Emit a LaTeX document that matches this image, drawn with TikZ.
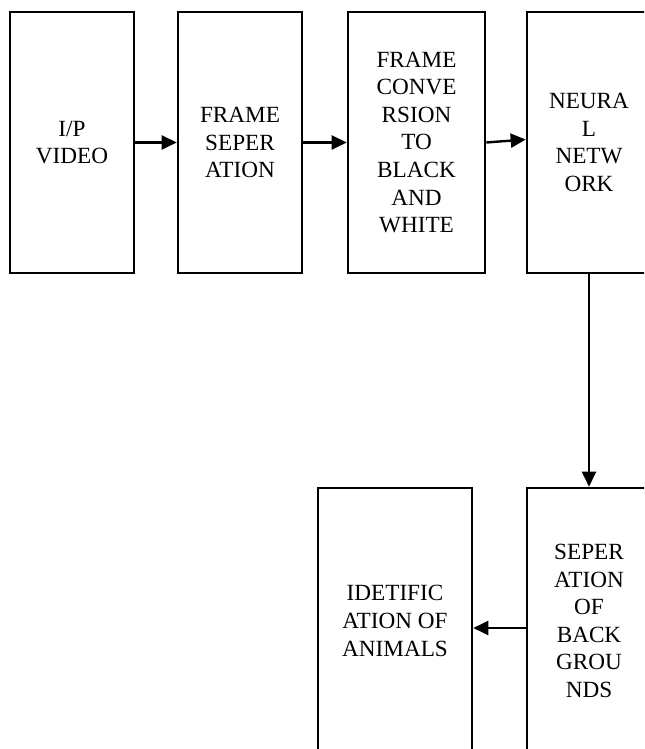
\documentclass[tikz,border=0pt]{standalone}
\usepackage{fontspec}
\setmainfont{Liberation Serif}
\usetikzlibrary{positioning, arrows.meta}

\tikzset{
  blok/.style={draw, line width=1.3pt, align=center, inner sep=0pt,
    minimum width=62pt, minimum height=130.5pt,
    font=\fontsize{11.6}{13.8}\selectfont},
  pijl/.style={-{Triangle[length=7.5pt, width=7pt]}, line width=1.2pt}
}

\begin{document}
\begin{tikzpicture}[x=0.5pt, y=0.5pt]
    % Kader
    \useasboundingbox (0,0) rectangle (644,749);
    \clip (0,0) rectangle (644,749);
    % Bovenste rij
    \node[blok] (video) at (72,606.5) {I/P\\VIDEO};
    \node[blok] (scheiding) at (240,606.5) {FRAME\\SEPER\\ATION};
    \node[blok, minimum width=68.5pt] (zwartwit) at (416.5,606.5)
      {FRAME\\CONVE\\RSION\\TO\\BLACK\\AND\\WHITE};
    \node[blok] (netwerk) at (589,606.5) {NEURA\\L\\NETW\\ORK};
    % Onderste rij
    \node[blok, minimum height=133pt] (achtergrond) at (589,128)
      {SEPER\\ATION\\OF\\BACK\\GROU\\NDS};
    \node[blok, minimum width=77pt, minimum height=133pt] (dieren) at (395,128)
      {IDETIFIC\\ATION OF\\ANIMALS};
    % Pijlen
    \draw[pijl] (video.east) -- (scheiding.west);
    \draw[pijl] (scheiding.east) -- (zwartwit.west);
    \draw[pijl] (zwartwit.east) -- ([yshift=1.5pt]netwerk.west);
    \draw[pijl] (netwerk.south) -- (achtergrond.north);
    \draw[pijl] ([yshift=-3.5pt]achtergrond.west) -- ([yshift=-3.5pt]dieren.east);
\end{tikzpicture}
\end{document}
